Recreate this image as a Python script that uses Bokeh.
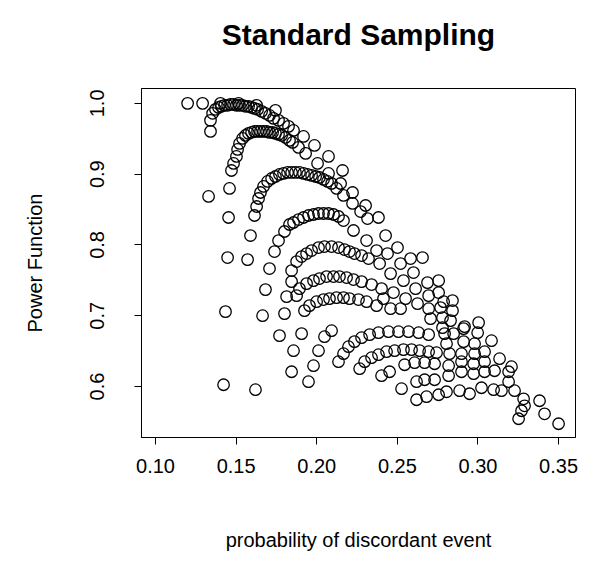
from bokeh.plotting import figure
from bokeh.models import Range1d, FixedTicker, Title
from bokeh.embed import file_html
from bokeh.resources import INLINE

# ---- data ----
top_x = [0.1199, 0.1292, 0.1403, 0.1515, 0.1627, 0.1744]
top_y = [1.000, 1.000, 1.000, 1.000, 0.9972, 0.9901]

arc1_x = [0.1341, 0.1341, 0.1354, 0.1372, 0.1391, 0.1409, 0.1428, 0.1447, 0.1465, 0.1484,
          0.1502, 0.1521, 0.1540, 0.1558, 0.1577, 0.1596, 0.1614, 0.1633, 0.1658, 0.1682,
          0.1707, 0.1732, 0.1763, 0.1794, 0.1825, 0.1856, 0.1918, 0.1986, 0.2073, 0.2160]
arc1_y = [0.9604, 0.9760, 0.9859, 0.9915, 0.9943, 0.9958, 0.9972, 0.9972, 0.9986, 0.9986,
          0.9972, 0.9972, 0.9972, 0.9958, 0.9958, 0.9943, 0.9929, 0.9915, 0.9887, 0.9859,
          0.9830, 0.9788, 0.9760, 0.9717, 0.9675, 0.9618, 0.9533, 0.9406, 0.9250, 0.9052]

arc2_x = [0.1329, 0.1459, 0.1471, 0.1484, 0.1502, 0.1509, 0.1521, 0.1540, 0.1558, 0.1577,
          0.1596, 0.1614, 0.1633, 0.1651, 0.1670, 0.1689, 0.1707, 0.1726, 0.1744, 0.1763,
          0.1782, 0.1806, 0.1831, 0.1850, 0.1887, 0.1931, 0.2005, 0.2073, 0.2148, 0.2222,
          0.2303, 0.2383]
arc2_y = [0.8685, 0.8798, 0.9052, 0.9151, 0.9250, 0.9349, 0.9434, 0.9505, 0.9547, 0.9576,
          0.9590, 0.9604, 0.9604, 0.9604, 0.9604, 0.9604, 0.9590, 0.9590, 0.9576, 0.9562,
          0.9547, 0.9519, 0.9477, 0.9448, 0.9378, 0.9293, 0.9151, 0.9010, 0.8868, 0.8741,
          0.8557, 0.8388]

arc3_x = [0.1453, 0.1589, 0.1614, 0.1627, 0.1639, 0.1651, 0.1670, 0.1695, 0.1720, 0.1744,
          0.1769, 0.1794, 0.1819, 0.1844, 0.1868, 0.1893, 0.1918, 0.1943, 0.1968, 0.1993,
          0.2017, 0.2042, 0.2067, 0.2092, 0.2123, 0.2166, 0.2222, 0.2272, 0.2315]
arc3_y = [0.8388, 0.8133, 0.8416, 0.8543, 0.8656, 0.8741, 0.8826, 0.8897, 0.8939, 0.8967,
          0.8996, 0.9010, 0.9024, 0.9024, 0.9024, 0.9024, 0.9010, 0.8996, 0.8982, 0.8967,
          0.8953, 0.8925, 0.8897, 0.8868, 0.8798, 0.8699, 0.8586, 0.8472, 0.8373]

arc4_x = [0.1707, 0.1738, 0.1763, 0.1800, 0.1831, 0.1856, 0.1887, 0.1918, 0.1949, 0.1980,
          0.2011, 0.2042, 0.2073, 0.2104, 0.2135, 0.2166, 0.2228, 0.2309, 0.2371]
arc4_y = [0.7666, 0.7907, 0.8062, 0.8190, 0.8289, 0.8317, 0.8359, 0.8388, 0.8416, 0.8430,
          0.8444, 0.8444, 0.8444, 0.8430, 0.8402, 0.8345, 0.8204, 0.8062, 0.7921]

arc5_x = [0.1813, 0.1844, 0.1844, 0.1875, 0.1906, 0.1937, 0.1968, 0.2011, 0.2048, 0.2092,
          0.2135, 0.2172, 0.2203, 0.2234, 0.2278, 0.2321, 0.2390]
arc5_y = [0.7270, 0.7482, 0.7638, 0.7765, 0.7836, 0.7878, 0.7921, 0.7963, 0.7977, 0.7977,
          0.7963, 0.7935, 0.7907, 0.7878, 0.7850, 0.7808, 0.7737]

arc6_x = [0.1800, 0.1875, 0.1893, 0.1937, 0.1980, 0.2017, 0.2061, 0.2104, 0.2141, 0.2185,
          0.2228, 0.2278, 0.2340, 0.2402]
arc6_y = [0.7030, 0.7284, 0.7383, 0.7454, 0.7496, 0.7525, 0.7553, 0.7553, 0.7553, 0.7539,
          0.7511, 0.7482, 0.7440, 0.7383]

arc7_x = [0.1924, 0.1955, 0.1999, 0.2042, 0.2079, 0.2123, 0.2166, 0.2203, 0.2259, 0.2309, 0.2371]
arc7_y = [0.7072, 0.7143, 0.7199, 0.7228, 0.7242, 0.7256, 0.7256, 0.7242, 0.7228, 0.7199, 0.7143]

arc8_x = [0.2135, 0.2166, 0.2197, 0.2234, 0.2278, 0.2328, 0.2383, 0.2445, 0.2507, 0.2569, 0.2632, 0.2694]
arc8_y = [0.6351, 0.6464, 0.6563, 0.6634, 0.6690, 0.6733, 0.6761, 0.6775, 0.6775, 0.6775, 0.6761, 0.6733]

arc9_x = [0.2266, 0.2297, 0.2340, 0.2383, 0.2433, 0.2483, 0.2538, 0.2588, 0.2638, 0.2694, 0.2743]
arc9_y = [0.6252, 0.6351, 0.6407, 0.6450, 0.6492, 0.6506, 0.6521, 0.6521, 0.6506, 0.6492, 0.6478]

arc10_x = [0.2402, 0.2452, 0.2545, 0.2607, 0.2669, 0.2731]
arc10_y = [0.6153, 0.6209, 0.6308, 0.6337, 0.6337, 0.6322]

arc11_x = [0.2526, 0.2619, 0.2669, 0.2731]
arc11_y = [0.5969, 0.6068, 0.6096, 0.6096]

arc12_x = [0.2619, 0.2681, 0.2756]
arc12_y = [0.5813, 0.5856, 0.5884]

low_x = [0.1447, 0.1571, 0.1682, 0.1434, 0.1664, 0.1769, 0.1856, 0.1844, 0.1422, 0.1620,
         0.1906, 0.2048, 0.2092, 0.2011, 0.1980, 0.1949]
low_y = [0.7822, 0.7793, 0.7369, 0.7058, 0.7001, 0.6719, 0.6506, 0.6209, 0.6025, 0.5955,
         0.6747, 0.6704, 0.6789, 0.6506, 0.6294, 0.6068]

mid_x = [0.2427, 0.2501, 0.2439, 0.2582, 0.2656, 0.2520, 0.2600, 0.2458, 0.2687, 0.2756,
         0.2538, 0.2613, 0.2756, 0.2842, 0.2476, 0.2694, 0.2551, 0.2414, 0.2625, 0.2694,
         0.2768, 0.2842, 0.2458, 0.2520, 0.2706, 0.2780, 0.2830, 0.2780, 0.2911, 0.3004,
         0.2998, 0.2787, 0.2917]
mid_y = [0.8133, 0.7963, 0.7878, 0.7808, 0.7822, 0.7737, 0.7610, 0.7595, 0.7468, 0.7496,
         0.7496, 0.7383, 0.7327, 0.7214, 0.7327, 0.7284, 0.7242, 0.7242, 0.7171, 0.7100,
         0.7115, 0.7072, 0.7100, 0.7100, 0.6959, 0.6973, 0.6931, 0.6832, 0.6818, 0.6903,
         0.6761, 0.7199, 0.6846]

lr_x = [0.2793, 0.2849, 0.2805, 0.2911, 0.2979, 0.3084, 0.2824, 0.2898, 0.2979, 0.3041,
        0.3134, 0.2818, 0.2898, 0.2973, 0.3041, 0.3208, 0.2818, 0.2898, 0.2973, 0.3041,
        0.3103, 0.3190, 0.2805, 0.2886, 0.2948, 0.3022, 0.3097, 0.3146, 0.3190, 0.3227,
        0.3283, 0.3289, 0.3270, 0.3252, 0.3382, 0.3413, 0.3500]
lr_y = [0.6747, 0.6747, 0.6605, 0.6634, 0.6605, 0.6648, 0.6464, 0.6464, 0.6464, 0.6492,
        0.6393, 0.6294, 0.6351, 0.6322, 0.6351, 0.6280, 0.6153, 0.6209, 0.6181, 0.6209,
        0.6223, 0.6209, 0.5926, 0.5941, 0.5898, 0.5983, 0.5955, 0.5941, 0.6068, 0.5941,
        0.5827, 0.5728, 0.5658, 0.5545, 0.5799, 0.5615, 0.5474]

x_ticks = [0.10, 0.15, 0.20, 0.25, 0.30, 0.35]
x_tick_labels = ["0.10", "0.15", "0.20", "0.25", "0.30", "0.35"]
y_ticks = [0.6, 0.7, 0.8, 0.9, 1.0]
y_tick_labels = ["0.6", "0.7", "0.8", "0.9", "1.0"]

title_text = "Standard Sampling"
x_label = "probability of discordant event"
y_label = "Power Function"

FONT = "Liberation Sans"

p = figure(width=599, height=574, output_backend="svg", toolbar_location=None,
           x_range=Range1d(0.0913, 0.3605), y_range=Range1d(0.528, 1.021),
           min_border_left=141, min_border_right=24, min_border_top=88, min_border_bottom=137,
           background_fill_color="white", border_fill_color="white")
p.title = None

# invisible (white) spacer next to the frame, then the main title above it
spacer = Title(text=".", text_font=FONT, text_font_size="2px", text_color="white", standoff=35)
p.add_layout(spacer, "above")
main_title = Title(text=title_text, align="center", text_font=FONT, text_font_size="30px",
                   text_font_style="bold", text_color="black", standoff=0)
p.add_layout(main_title, "above")

p.grid.visible = False
p.outline_line_color = "black"
p.outline_line_width = 1

for ax in (p.xaxis[0], p.yaxis[0]):
    ax.axis_line_color = "black"
    ax.major_tick_in = 0
    ax.major_tick_out = 7
    ax.minor_tick_line_color = None
    ax.major_tick_line_color = "black"
    ax.major_label_text_font = FONT
    ax.major_label_text_font_size = "20px"
    ax.major_label_text_color = "black"
    ax.axis_label_text_font = FONT
    ax.axis_label_text_font_size = "20px"
    ax.axis_label_text_font_style = "normal"
    ax.axis_label_text_color = "black"

p.xaxis.ticker = FixedTicker(ticks=x_ticks)
p.xaxis.major_label_overrides = dict(zip(x_ticks, x_tick_labels))
p.xaxis.axis_label = x_label
p.xaxis.major_label_standoff = 14
p.xaxis.axis_label_standoff = 53

p.yaxis.ticker = FixedTicker(ticks=y_ticks)
p.yaxis.major_label_overrides = dict(zip(y_ticks, y_tick_labels))
p.yaxis.major_label_orientation = "vertical"
p.yaxis.axis_label = y_label
p.yaxis.major_label_standoff = 30
p.yaxis.axis_label_standoff = 42

groups = [(top_x, top_y), (arc1_x, arc1_y), (arc2_x, arc2_y), (arc3_x, arc3_y),
          (arc4_x, arc4_y), (arc5_x, arc5_y), (arc6_x, arc6_y), (arc7_x, arc7_y),
          (arc8_x, arc8_y), (arc9_x, arc9_y), (arc10_x, arc10_y), (arc11_x, arc11_y),
          (arc12_x, arc12_y), (low_x, low_y), (mid_x, mid_y), (lr_x, lr_y)]
for gx, gy in groups:
    p.scatter(gx, gy, marker="circle", size=11.5, fill_color=None,
              line_color="black", line_width=1.3)

open("out.html", "w").write(file_html(p, INLINE))
